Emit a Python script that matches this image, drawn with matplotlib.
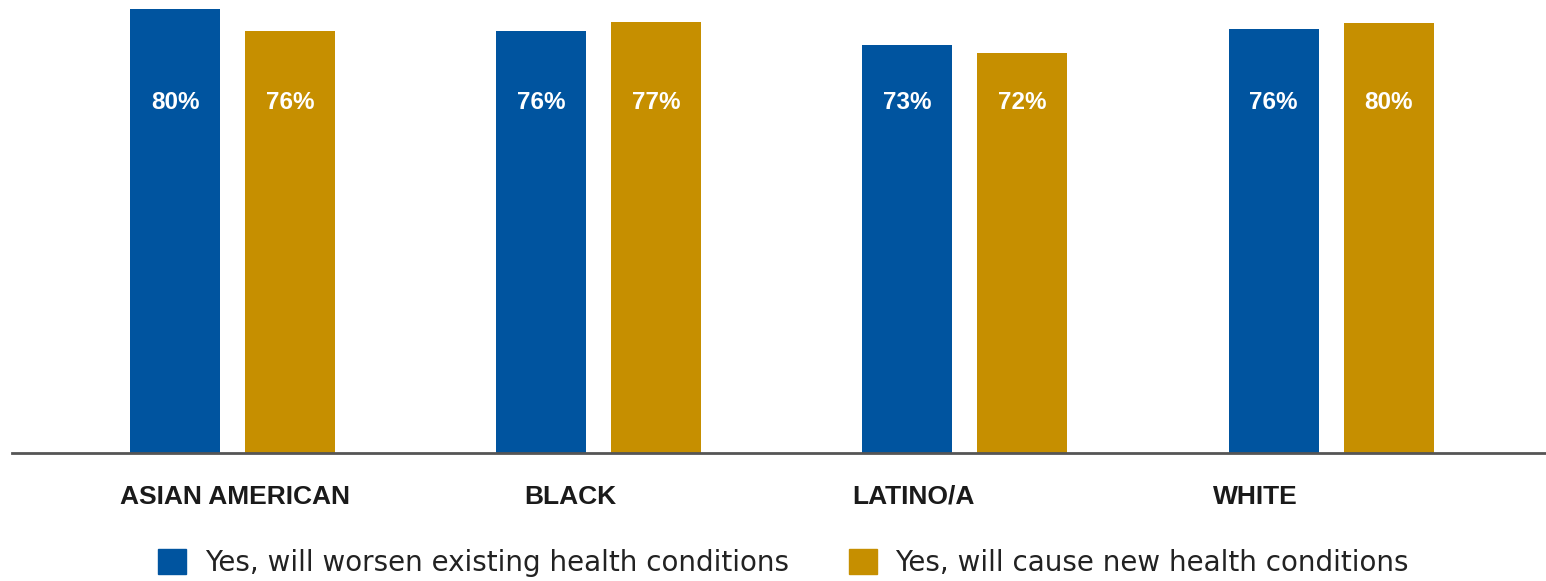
import matplotlib
matplotlib.use("Agg")
import matplotlib.pyplot as plt
from matplotlib.patches import Patch
import numpy as np

categories = ["ASIAN AMERICAN", "BLACK", "LATINO/A", "WHITE"]
series_names = [
    "Yes, will worsen existing health conditions",
    "Yes, will cause new health conditions",
]
# bar heights as drawn (%), and the printed labels
worsen_heights = [80.0, 76.0, 73.5, 76.4]
new_heights = [76.0, 77.7, 72.1, 77.5]
worsen_labels = ["80%", "76%", "73%", "76%"]
new_labels = ["76%", "77%", "72%", "80%"]

BLUE = "#00549F"
GOLD = "#C68F00"
FONT = ["Liberation Sans", "DejaVu Sans"]

plt.rcParams["font.family"] = FONT

fig = plt.figure(figsize=(15.46, 5.81), dpi=100)
base = 1 - 453 / 581
ax = fig.add_axes([0, base, 1, 1 - base])

x = np.arange(len(categories))
width = 0.246
off = 0.157
ax.bar(x - off, worsen_heights, width, color=BLUE)
ax.bar(x + off, new_heights, width, color=GOLD)

label_y = 63.2
for i in range(len(categories)):
    ax.text(x[i] - off, label_y, worsen_labels[i], ha="center", va="center",
            color="white", fontsize=17.5, fontweight="bold")
    ax.text(x[i] + off, label_y, new_labels[i], ha="center", va="center",
            color="white", fontsize=17.5, fontweight="bold")

# category names sit a little left of each group, as in the original
label_offsets = [-0.307, -0.204, -0.308, -0.323]
for i, name in enumerate(categories):
    ax.text(x[i] + label_offsets[i], -7.9, name, ha="left", va="center",
            fontsize=19, fontweight="bold", color="#1a1a1a", clip_on=False)

px = 366.2
ax.set_xlim(-232.5 / px, (1546 - 232.5) / px)
ax.set_ylim(0, 453 / 5.55)
ax.axhline(0, xmin=12 / 1546, xmax=1, color="#555555", linewidth=2, clip_on=False)
ax.axis("off")

handles = [Patch(color=BLUE), Patch(color=GOLD)]
fig.legend(handles, series_names, loc="center", ncol=2,
           bbox_to_anchor=(783.5 / 1546, 1 - 563 / 581), frameon=False,
           prop={"family": "DejaVu Sans", "size": 20},
           handlelength=1.0, handleheight=1.0,
           handletextpad=0.68, columnspacing=2.16, labelcolor="#222222")

fig.savefig("out.png", dpi=100)
